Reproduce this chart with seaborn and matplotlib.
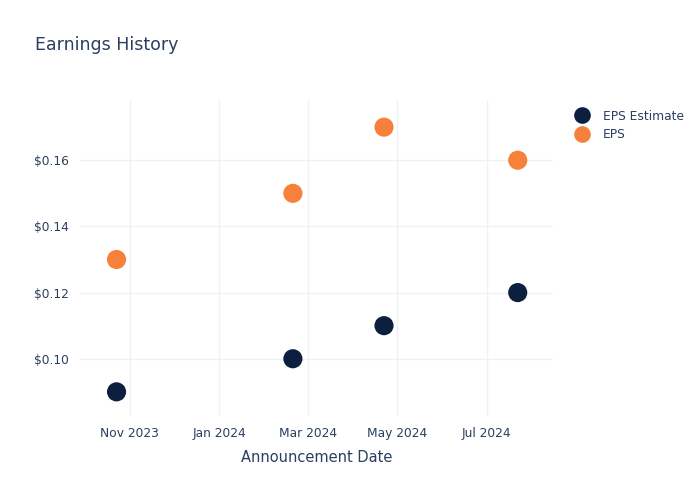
import pandas as pd
import numpy as np
import matplotlib
matplotlib.use("Agg")
import matplotlib.pyplot as plt
import matplotlib.dates as mdates
from matplotlib.ticker import FuncFormatter
import seaborn as sns

# Data
dates = ["2023-10-23", "2024-02-20", "2024-04-22", "2024-07-22"]
eps_estimate = [0.09, 0.10, 0.11, 0.12]
eps_actual = [0.13, 0.15, 0.17, 0.16]
series_names = ["EPS Estimate", "EPS"]
series_colors = ["#0d1f3f", "#f7803a"]

text_color = "#2a3f5f"
grid_color = "#eef1f7"

df = pd.DataFrame({
    "date": pd.to_datetime(dates * 2),
    "value": eps_estimate + eps_actual,
    "series": [series_names[0]] * len(dates) + [series_names[1]] * len(dates),
})

sns.set_style("white")
plt.rcParams["font.family"] = ["DejaVu Sans"]

fig = plt.figure(figsize=(7, 5), dpi=100)
ax = fig.add_axes([0.114, 0.168, 0.676, 0.632])

sns.scatterplot(data=df, x="date", y="value", hue="series",
                palette=dict(zip(series_names, series_colors)),
                s=190, edgecolor="none", ax=ax, zorder=3)

ax.set_xlim(pd.Timestamp("2023-09-28"), pd.Timestamp("2024-08-15"))
ax.set_ylim(0.0827, 0.1782)

ax.xaxis.set_major_locator(mdates.MonthLocator(bymonth=[1, 3, 5, 7, 11]))
ax.xaxis.set_major_formatter(mdates.DateFormatter("%b %Y"))
ax.set_yticks([0.10, 0.12, 0.14, 0.16])
ax.yaxis.set_major_formatter(FuncFormatter(lambda v, p: f"${v:.2f}"))

ax.grid(True, color=grid_color, linewidth=1)
ax.set_axisbelow(True)
for sp in ax.spines.values():
    sp.set_visible(False)
ax.tick_params(axis="both", length=0, labelsize=8.8, labelcolor=text_color, pad=8)

ax.set_xlabel("Announcement Date", fontsize=10.5, color=text_color, labelpad=7)
ax.set_ylabel("")

fig.text(0.05, 0.91, "Earnings History", fontsize=12.5, color=text_color, va="center")

leg = ax.legend(loc="upper left", bbox_to_anchor=(1.025, 0.985), frameon=False,
                fontsize=8.8, handletextpad=0.7, labelspacing=0.45, borderaxespad=0)
for t in leg.get_texts():
    t.set_color(text_color)
for h in leg.legend_handles:
    h.set_markersize(12)

fig.savefig("out.png", dpi=100)
